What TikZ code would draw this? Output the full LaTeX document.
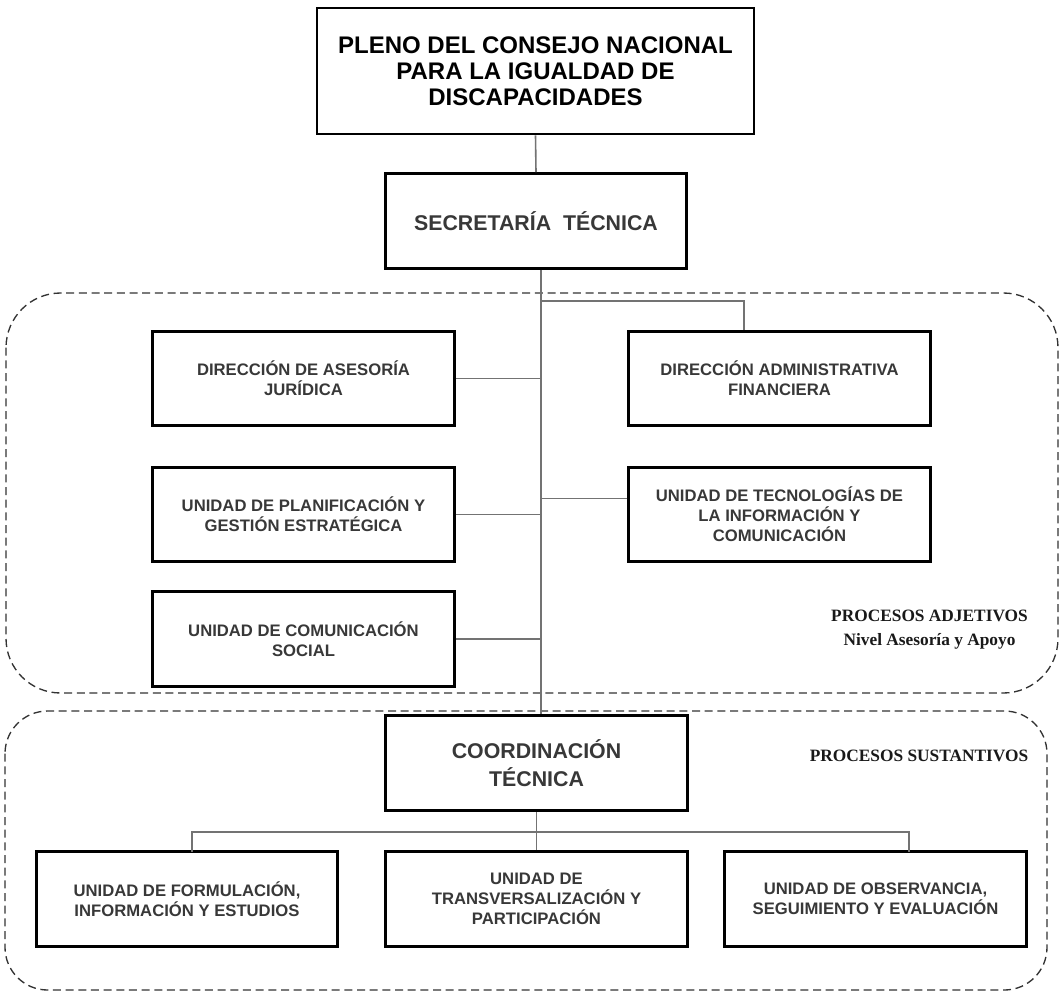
\documentclass[tikz,border=0pt]{standalone}
\usepackage{fontspec}
\setmainfont{Liberation Sans}
\newfontfamily\labfont{Liberation Serif}
\begin{document}
\begin{tikzpicture}[x=0.75pt,y=-0.75pt,
    box/.style={draw=black, line width=2.2pt, fill=white, minimum width=226pt, minimum height=71pt,
      align=center, inner sep=2pt, text=black!78, font=\bfseries\fontsize{12.5}{15}\selectfont},
    bigbox/.style={box, font=\bfseries\fontsize{16}{20}\selectfont},
    link/.style={draw=black!55, line width=1.2pt},
    zone/.style={draw=black!80, line width=1pt, dash pattern=on 6pt off 3.5pt},
    lab/.style={font=\labfont\bfseries\fontsize{13}{18}\selectfont, text=black!90, align=center}]
  \useasboundingbox (0,0) rectangle (1060,993);
  % zonas
  \draw[zone, rounded corners=41pt] (6,293) rectangle (1058,693);
  \draw[zone, rounded corners=32pt] (5,711) rectangle (1047,990);
  % cabeza
  \node[box, minimum width=327.75pt, minimum height=94.5pt, text=black,
        font=\bfseries\fontsize{18}{19.5}\selectfont] (pleno) at (535.5,71)
        {PLENO DEL CONSEJO NACIONAL\\PARA LA IGUALDAD DE\\DISCAPACIDADES};
  \node[bigbox] (sec) at (536,221) {SECRETAR\'IA\ \ T\'ECNICA};
  % procesos adjetivos
  \node[box] (daj) at (303.5,378.5) {DIRECCI\'ON DE ASESOR\'IA\\JUR\'IDICA};
  \node[box] (upge) at (303.5,514.5) {UNIDAD DE PLANIFICACI\'ON Y\\GESTI\'ON ESTRAT\'EGICA};
  \node[box] (ucs) at (303.5,639) {UNIDAD DE COMUNICACI\'ON\\SOCIAL};
  \node[box] (daf) at (779.5,378.5) {DIRECCI\'ON ADMINISTRATIVA\\FINANCIERA};
  \node[box] (utic) at (779.5,514.5) {UNIDAD DE TECNOLOG\'IAS DE\\LA INFORMACI\'ON Y\\COMUNICACI\'ON};
  \node[lab] (adj) at (929.5,630) {PROCESOS ADJETIVOS\\Nivel Asesor\'ia y Apoyo};
  % procesos sustantivos
  \node[bigbox, font=\bfseries\fontsize{16}{20.5}\selectfont] (coord) at (536.5,763) {COORDINACI\'ON\\T\'ECNICA};
  \node[lab, anchor=east] (sust) at (1033,756) {PROCESOS SUSTANTIVOS};
  \node[box] (ufie) at (187,899) {UNIDAD DE FORMULACI\'ON,\\INFORMACI\'ON Y ESTUDIOS};
  \node[box] (utp) at (536.5,899) {UNIDAD DE\\TRANSVERSALIZACI\'ON Y\\PARTICIPACI\'ON};
  \node[box] (uose) at (875.5,899) {UNIDAD DE OBSERVANCIA,\\SEGUIMIENTO Y EVALUACI\'ON};
  % conectores
  \coordinate (tr) at (541,0);
  \coordinate (dafj) at (744,301);
  \coordinate (bus) at (0,832);
  \draw[link] (pleno.south) -- (sec.north);
  \draw[link] (sec.south -| tr) -- (coord.north -| tr);
  \draw[link] (dafj -| tr) -- (dafj) -- (dafj |- daf.north);
  \draw[link] (daj.east) -- (daj.east -| tr);
  \draw[link] (upge.east) -- (upge.east -| tr);
  \draw[link] (ucs.east) -- (ucs.east -| tr);
  \draw[link] ([yshift=12pt]utic.west) -- ([yshift=12pt]utic.west -| tr);
  \draw[link] (coord.south) -- (utp.north);
  \draw[link] (192,852) -- (192,832) -- (909,832) -- (909,852);
\end{tikzpicture}
\end{document}
